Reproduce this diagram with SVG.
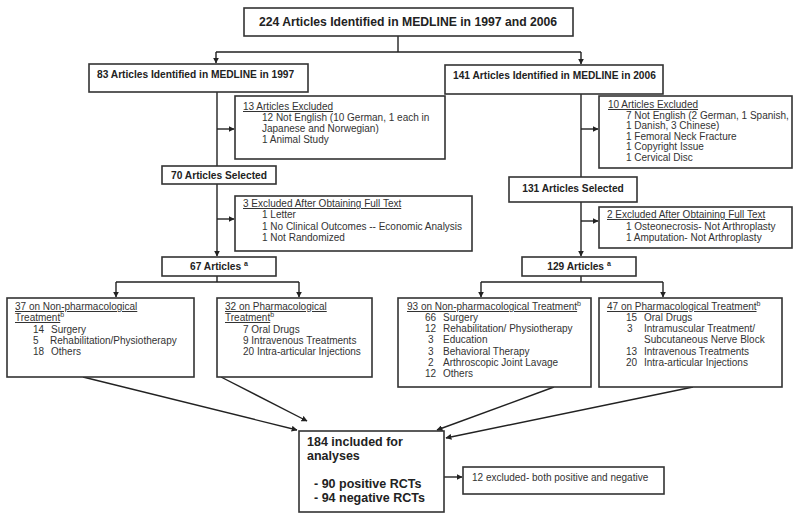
<svg xmlns="http://www.w3.org/2000/svg" width="800" height="521" viewBox="0 0 800 521">
<defs>
<marker id="ah" viewBox="0 0 10 10" refX="9" refY="5" markerWidth="6" markerHeight="6" orient="auto" markerUnits="userSpaceOnUse"><path d="M0,0 L10,5 L0,10 z" fill="#222"/></marker>
</defs>
<style>
.box{fill:#fff;stroke:#333;stroke-width:1.6}
.b{font-family:"Liberation Sans",Arial,sans-serif;font-weight:bold;font-size:10.2px;fill:#222}
.h{font-size:12.2px}
.big{font-size:12.5px}
.t{font-family:"Liberation Sans",Arial,sans-serif;font-size:10px;fill:#333}
.u{text-decoration:underline}
.sup{font-size:7px}
.ln{fill:none;stroke:#222;stroke-width:1.4}
</style>
<rect width="800" height="521" fill="#fff"/>
<g id="connectors">
<path class="ln" d="M398,36 V52 M216,52 H581"/>
<path class="ln" d="M216,52 V63" marker-end="url(#ah)"/>
<path class="ln" d="M581,52 V64" marker-end="url(#ah)"/>
<path class="ln" d="M217,92 V166"/>
<path class="ln" d="M217,129 H234" marker-end="url(#ah)"/>
<path class="ln" d="M217,184 V256" marker-end="url(#ah)"/>
<path class="ln" d="M217,219 H234" marker-end="url(#ah)"/>
<path class="ln" d="M581,94 V177"/>
<path class="ln" d="M581,129 H598" marker-end="url(#ah)"/>
<path class="ln" d="M581,202 V256" marker-end="url(#ah)"/>
<path class="ln" d="M581,221 H598" marker-end="url(#ah)"/>
<path class="ln" d="M217,276 V282 M116,282 H299 M581,276 V282 M481,282 H663"/>
<path class="ln" d="M116,282 V297" marker-end="url(#ah)"/>
<path class="ln" d="M299,282 V297" marker-end="url(#ah)"/>
<path class="ln" d="M481,282 V297" marker-end="url(#ah)"/>
<path class="ln" d="M663,282 V297" marker-end="url(#ah)"/>
<path class="ln" d="M83,377 L297,430" marker-end="url(#ah)"/>
<path class="ln" d="M221,377 L307,421" marker-end="url(#ah)"/>
<path class="ln" d="M554,387 L437,430" marker-end="url(#ah)"/>
<path class="ln" d="M693,387 L446,438" marker-end="url(#ah)"/>
<path class="ln" d="M444,477 H462" marker-end="url(#ah)"/>
</g>
<g id="n224">
<rect class="box" x="244" y="8" width="329" height="28"/>
<text class="b h" x="408" y="26" text-anchor="middle">224 Articles Identified in MEDLINE in 1997 and 2006</text>
</g>
<g id="n83">
<rect class="box" x="89" y="64" width="219" height="28"/>
<text class="b" x="97" y="78">83 Articles Identified in MEDLINE in 1997</text>
</g>
<g id="n141">
<rect class="box" x="445" y="65" width="218" height="29"/>
<text class="b" x="453" y="79">141 Articles Identified in MEDLINE in 2006</text>
</g>
<g id="ex13">
<rect class="box" x="235" y="96" width="210" height="63"/>
<text class="t u" x="243" y="110">13 Articles Excluded</text>
<text class="t" x="262" y="121">12 Not English (10 German, 1 each in</text>
<text class="t" x="262" y="132">Japanese and Norwegian)</text>
<text class="t" x="262" y="143">1 Animal Study</text>
</g>
<g id="n70">
<rect class="box" x="162" y="166" width="114" height="18"/>
<text class="b" x="219" y="179" text-anchor="middle">70 Articles Selected</text>
</g>
<g id="ex10">
<rect class="box" x="599" y="96" width="193" height="72"/>
<text class="t u" x="608" y="108">10 Articles Excluded</text>
<text class="t" x="626" y="119">7 Not English (2 German, 1 Spanish,</text>
<text class="t" x="626" y="129">1 Danish, 3 Chinese)</text>
<text class="t" x="626" y="140">1 Femoral Neck Fracture</text>
<text class="t" x="626" y="150">1 Copyright Issue</text>
<text class="t" x="626" y="161">1 Cervical Disc</text>
</g>
<g id="n131">
<rect class="box" x="509" y="177" width="128" height="25"/>
<text class="b" x="573" y="192" text-anchor="middle">131 Articles Selected</text>
</g>
<g id="ex3">
<rect class="box" x="235" y="196" width="237" height="55"/>
<text class="t u" x="243" y="207">3 Excluded After Obtaining Full Text</text>
<text class="t" x="262" y="218">1 Letter</text>
<text class="t" x="262" y="230">1 No Clinical Outcomes -- Economic Analysis</text>
<text class="t" x="262" y="241">1 Not Randomized</text>
</g>
<g id="ex2">
<rect class="box" x="599" y="207" width="193" height="41"/>
<text class="t u" x="607" y="218">2 Excluded After Obtaining Full Text</text>
<text class="t" x="626" y="230">1 Osteonecrosis- Not Arthroplasty</text>
<text class="t" x="626" y="241">1 Amputation- Not Arthroplasty</text>
</g>
<g id="n67">
<rect class="box" x="162" y="257" width="114" height="19"/>
<text class="b" x="219" y="270" text-anchor="middle">67 Articles <tspan class="sup" dy="-4">a</tspan></text>
</g>
<g id="n129">
<rect class="box" x="522" y="257" width="114" height="19"/>
<text class="b" x="579" y="270" text-anchor="middle">129 Articles <tspan class="sup" dy="-4">a</tspan></text>
</g>
<g id="n37">
<rect class="box" x="7" y="298" width="187" height="79"/>
<text class="t u" x="15" y="310">37 on Non-pharmacological</text>
<text class="t" x="15" y="321"><tspan class="u">Treatment</tspan><tspan class="sup" dy="-4">b</tspan></text>
<text class="t" x="33" y="333">14</text><text class="t" x="51" y="333">Surgery</text>
<text class="t" x="33" y="344">5</text><text class="t" x="50" y="344">Rehabilitation/Physiotherapy</text>
<text class="t" x="33" y="355">18</text><text class="t" x="51" y="355">Others</text>
</g>
<g id="n32">
<rect class="box" x="217" y="298" width="155" height="79"/>
<text class="t u" x="225" y="310">32 on Pharmacological</text>
<text class="t" x="225" y="321"><tspan class="u">Treatment</tspan><tspan class="sup" dy="-4">b</tspan></text>
<text class="t" x="243" y="333">7 Oral Drugs</text>
<text class="t" x="243" y="344">9 Intravenous Treatments</text>
<text class="t" x="243" y="355">20 Intra-articular Injections</text>
</g>
<g id="n93">
<rect class="box" x="398" y="298" width="193" height="89"/>
<text class="t" x="407" y="310"><tspan class="u">93 on Non-pharmacological Treatment</tspan><tspan class="sup" dy="-4">b</tspan></text>
<text class="t" x="425" y="321">66</text><text class="t" x="443" y="321">Surgery</text>
<text class="t" x="425" y="332">12</text><text class="t" x="443" y="332">Rehabilitation/ Physiotherapy</text>
<text class="t" x="428" y="343">3</text><text class="t" x="443" y="343">Education</text>
<text class="t" x="428" y="355">3</text><text class="t" x="443" y="355">Behavioral Therapy</text>
<text class="t" x="428" y="366">2</text><text class="t" x="443" y="366">Arthroscopic Joint Lavage</text>
<text class="t" x="425" y="377">12</text><text class="t" x="443" y="377">Others</text>
</g>
<g id="n47">
<rect class="box" x="599" y="298" width="183" height="89"/>
<text class="t" x="607" y="310"><tspan class="u">47 on Pharmacological Treatment</tspan><tspan class="sup" dy="-4">b</tspan></text>
<text class="t" x="626" y="321">15</text><text class="t" x="644" y="321">Oral Drugs</text>
<text class="t" x="627" y="332">3</text><text class="t" x="644" y="332">Intramuscular Treatment/</text>
<text class="t" x="644" y="343">Subcutaneous Nerve Block</text>
<text class="t" x="626" y="355">13</text><text class="t" x="644" y="355">Intravenous Treatments</text>
<text class="t" x="626" y="366">20</text><text class="t" x="644" y="366">Intra-articular Injections</text>
</g>
<g id="n184">
<rect class="box" x="299" y="431" width="145" height="81"/>
<text class="b big" x="307" y="446">184 included for</text>
<text class="b big" x="307" y="460">analyses</text>
<text class="b big" x="314" y="488">- 90 positive RCTs</text>
<text class="b big" x="314" y="502">- 94 negative RCTs</text>
</g>
<g id="ex12">
<rect class="box" x="463" y="467" width="201" height="27"/>
<text class="t" x="472" y="481">12 excluded- both positive and negative</text>
</g>
</svg>
